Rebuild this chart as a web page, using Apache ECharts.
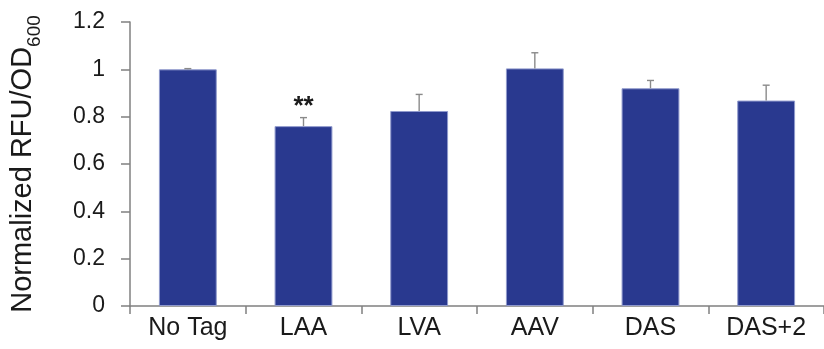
<!DOCTYPE html>
<html>
<head>
<meta charset="utf-8">
<script src="https://cdn.jsdelivr.net/npm/echarts@6/dist/echarts.min.js"></script>
<style>
  html, body { margin: 0; padding: 0; background: #ffffff; }
  #chart { width: 824px; height: 349px; }
</style>
</head>
<body>
<div id="chart"></div>
<script>
// Tag variants and their normalized fluorescence (mean, error bar above the mean)
var categories = ['No Tag', 'LAA', 'LVA', 'AAV', 'DAS', 'DAS+2'];
var means      = [1.0, 0.76, 0.824, 1.004, 0.92, 0.868];
var errors     = [0.003, 0.036, 0.07, 0.066, 0.033, 0.065];
var marks      = ['', '**', '', '', '', ''];

var FONT = '"Liberation Sans", Arial, Helvetica, sans-serif';
var AXIS_GRAY = '#808080';
var BAR_BLUE = '#29398f';
var ERR_GRAY = '#8a8a8a';

var chart = echarts.init(document.getElementById('chart'), null, { renderer: 'canvas' });

var errData = categories.map(function (c, i) { return [i, means[i], errors[i], marks[i]]; });

chart.setOption({
  backgroundColor: '#ffffff',
  animation: false,
  grid: { left: 128, top: 22, width: 704, bottom: 43, containLabel: false },
  xAxis: {
    type: 'category',
    data: categories,
    axisLine: { show: true, lineStyle: { color: AXIS_GRAY, width: 1.5 } },
    axisTick: { show: true, length: 8, alignWithLabel: false, lineStyle: { color: AXIS_GRAY, width: 1.5 } },
    axisLabel: { color: '#1a1a1a', fontFamily: FONT, fontSize: 25, margin: 10 },
    splitLine: { show: false }
  },
  yAxis: {
    type: 'value',
    min: 0,
    max: 1.2,
    interval: 0.2,
    axisLine: { show: true, lineStyle: { color: AXIS_GRAY, width: 1.5 } },
    axisTick: { show: true, length: 9, lineStyle: { color: AXIS_GRAY, width: 1.5 } },
    axisLabel: { color: '#1a1a1a', fontFamily: FONT, fontSize: 23, margin: 25 },
    splitLine: { show: false },
    name: '{main|Normalized RFU/OD}{sub|600}',
    nameLocation: 'middle',
    nameRotate: 90,
    nameGap: 86,
    nameTextStyle: {
      color: '#1a1a1a',
      fontFamily: FONT,
      rich: {
        main: { fontFamily: FONT, fontSize: 29, color: '#1a1a1a', lineHeight: 29, verticalAlign: 'middle' },
        sub:  { fontFamily: FONT, fontSize: 19, color: '#1a1a1a', lineHeight: 43, verticalAlign: 'bottom' }
      }
    }
  },
  series: [
    {
      type: 'bar',
      data: means,
      barWidth: '50%',
      itemStyle: { color: BAR_BLUE, borderColor: '#8f99cc', borderWidth: 1 },
      z: 2
    },
    {
      type: 'custom',
      data: errData,
      z: 3,
      renderItem: function (params, api) {
        var i = api.value(0);
        var m = api.value(1);
        var e = api.value(2);
        var base = api.coord([i, m]);
        var top = api.coord([i, m + e]);
        var half = 3.5;
        var children = [
          { type: 'line', shape: { x1: base[0], y1: base[1], x2: top[0], y2: top[1] },
            style: { stroke: ERR_GRAY, lineWidth: 1.4 } },
          { type: 'line', shape: { x1: top[0] - half, y1: top[1], x2: top[0] + half, y2: top[1] },
            style: { stroke: ERR_GRAY, lineWidth: 1.4 } }
        ];
        var mark = marks[params.dataIndex];
        if (mark) {
          children.push({
            type: 'text',
            style: {
              text: mark, x: top[0], y: top[1] - 11,
              align: 'center', verticalAlign: 'middle',
              fontFamily: FONT, fontSize: 26, fontWeight: 'bold', fill: '#1a1a1a'
            }
          });
        }
        return { type: 'group', children: children };
      }
    }
  ]
});
</script>
</body>
</html>
